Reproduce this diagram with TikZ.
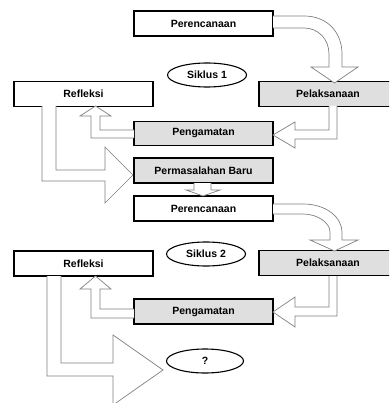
\documentclass[tikz,border=0pt]{standalone}
\usepackage{fontspec}
\setmainfont{Liberation Sans}
\usetikzlibrary{shapes.geometric}
\tikzset{
  box/.style={draw,line width=1.1pt,minimum width=139pt,minimum height=25pt,inner sep=0pt,font=\fontsize{10.5}{12}\selectfont\bfseries},
  grbox/.style={box,fill=gray!25},
  oval/.style={draw,ellipse,line width=1.1pt,minimum width=79pt,minimum height=24pt,inner sep=0pt,font=\fontsize{10.5}{12}\selectfont\bfseries},
  blockarrow/.style={draw=gray,fill=white,line width=0.7pt,line join=miter}
}
\begin{document}
\begin{tikzpicture}[x=1pt,y=-1pt]
  \useasboundingbox (0,0) rectangle (389,403);
  \clip (0,0) rectangle (389,403);
  \node [box] (per1) at (203.5,23.5) {Perencanaan};
  \node [oval] (sik1) at (207,75) {Siklus 1};
  \node [box] (ref1) at (83.5,94) {Refleksi};
  \node [grbox,minimum width=138pt] (pel1) at (328,94) {Pelaksanaan};
  \node [grbox,minimum height=24pt] (pen1) at (203.5,133.5) {Pengamatan};
  \node [grbox] (pb) at (203.5,170.5) {Permasalahan Baru};
  \node [box] (per2) at (203.5,208.5) {Perencanaan};
  \node [oval] (sik2) at (206,254) {Siklus 2};
  \node [box] (ref2) at (83.5,263.5) {Refleksi};
  \node [grbox,minimum width=138pt] (pel2) at (328,263) {Pelaksanaan};
  \node [grbox] (pen2) at (203.5,311.5) {Pengamatan};
  \node [oval,minimum width=77pt] (q) at (205,361) {?};
  \draw [blockarrow] (273,16) -- (304,16) .. controls (327,16) and (342,32) .. (342,54) -- (342,67) -- (358,67) -- (334.5,83) -- (311,67) -- (329,67) -- (329,54) .. controls (329,39) and (318,28) .. (304,28) -- (273,28);
  \draw [blockarrow] (337,106) -- (337,139) -- (295,139) -- (295,148) -- (273,135) -- (295,122) -- (295,130) -- (329,130) -- (329,106);
  \draw [blockarrow] (134,138) -- (91,138) -- (91,116) -- (80,116) -- (95.5,106) -- (111,116) -- (100,116) -- (100,130) -- (134,130);
  \draw [blockarrow] (42,106) -- (42,181) -- (105,181) -- (105,203) -- (133,175) -- (105,147) -- (105,170) -- (56,170) -- (56,106);
  \draw [blockarrow] (194,183) -- (194,190) -- (186,190) -- (203,196) -- (220,190) -- (211,190) -- (211,183);
  \draw [blockarrow] (273,204) -- (303,204) .. controls (327,204) and (342,218) .. (342,232) -- (342,240) -- (358,240) -- (334.5,251) -- (310,240) -- (330,240) -- (330,232) .. controls (330,223) and (318,214) .. (303,214) -- (273,214);
  \draw [blockarrow] (337,276) -- (337,316) -- (295,316) -- (295,327) -- (273,312) -- (295,297) -- (295,307) -- (329,307) -- (329,276);
  \draw [blockarrow] (134,318) -- (91,318) -- (91,289) -- (80,289) -- (95.5,276) -- (111,289) -- (100,289) -- (100,309) -- (134,309);
  \draw [blockarrow] (47,276) -- (47,376) -- (113,376) -- (113,405) -- (163,370) -- (113,335) -- (113,363) -- (61,363) -- (61,276);
\end{tikzpicture}
\end{document}
